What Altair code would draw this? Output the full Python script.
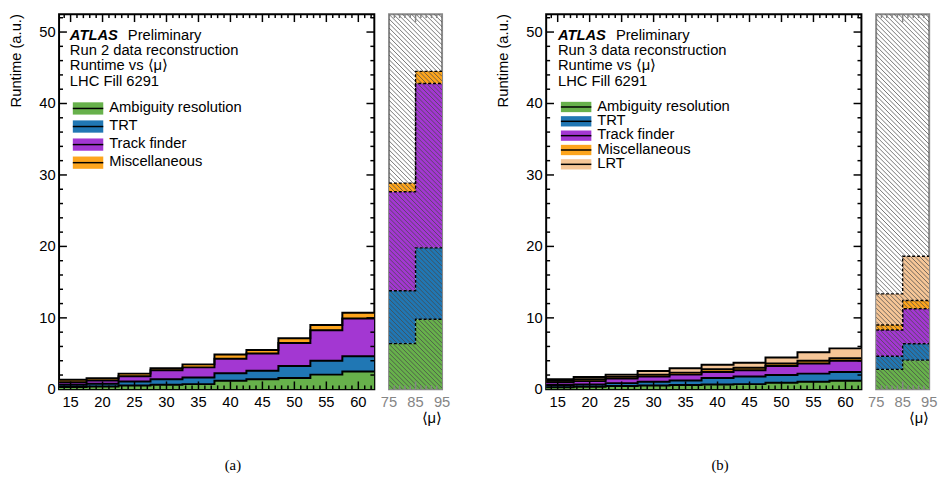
import altair as alt
import numpy as np
import pandas as pd

# ---------------- data ----------------
mu_bins = [15, 20, 25, 30, 35, 40, 45, 50, 55, 60]
mu_side = [80, 90]
bin_width_main = 5
bin_width_side = 10

components = ["Ambiguity resolution", "TRT", "Track finder", "Miscellaneous", "LRT"]

run2_amb = [0.32, 0.41, 0.55, 0.64, 0.73, 1.19, 1.42, 1.60, 2.06, 2.48]
run2_trt = [0.32, 0.37, 0.55, 0.78, 0.92, 1.06, 1.19, 1.66, 1.94, 2.15]
run2_trk = [0.36, 0.46, 0.73, 1.24, 1.42, 2.02, 2.39, 3.21, 4.26, 5.27]
run2_misc = [0.33, 0.32, 0.37, 0.28, 0.42, 0.59, 0.50, 0.69, 0.74, 0.83]
run2_side_amb = [6.4, 9.8]
run2_side_trt = [7.4, 10.0]
run2_side_trk = [13.85, 23.0]
run2_side_misc = [1.2, 1.7]

run3_amb = [0.30, 0.37, 0.46, 0.55, 0.60, 0.69, 0.73, 0.92, 1.05, 1.19]
run3_trt = [0.30, 0.32, 0.41, 0.50, 0.64, 0.91, 1.06, 1.10, 1.15, 1.24]
run3_trk = [0.40, 0.46, 0.63, 0.74, 0.82, 0.83, 0.87, 1.24, 1.42, 1.56]
run3_misc = [0.20, 0.25, 0.25, 0.27, 0.28, 0.37, 0.37, 0.36, 0.37, 0.37]
run3_lrt = [0.22, 0.34, 0.31, 0.51, 0.60, 0.64, 0.69, 0.83, 1.19, 1.37]
run3_side_amb = [2.8, 4.08]
run3_side_trt = [1.83, 2.3]
run3_side_trk = [3.67, 4.9]
run3_side_misc = [0.7, 1.15]
run3_side_lrt = [4.35, 6.19]

main_xlabels = [15, 20, 25, 30, 35, 40, 45, 50, 55, 60]
side_xlabels = [75, 85, 95]
y_labels = [0, 10, 20, 30, 40, 50]

# ---------------- styling / layout ----------------
FONT = "Liberation Sans"
FS = 15
W_MAIN, W_SIDE, H = 321, 54, 382
X_MAIN = [13.2, 62.5]
X_SIDE = [75, 95]
Y_DOM = [0, 52.5]
GREY = "#858585"

colors = {
    "Ambiguity resolution": "#67b14b",
    "TRT": "#2077b4",
    "Track finder": "#a337d2",
    "Miscellaneous": "#fda51d",
    "LRT": "#f6c697",
}
color_scale = alt.Scale(domain=components, range=[colors[c] for c in components])


def edges_of(centers, width):
    return [c - width / 2 for c in centers] + [centers[-1] + width / 2]


def stack_df(edges, comps):
    rows = []
    base = np.zeros(len(edges) - 1)
    for name, vals in comps:
        vals = np.asarray(vals, dtype=float)
        top = base + vals
        for i in range(len(vals)):
            rows.append(dict(comp=name, x=edges[i], lo=base[i], hi=top[i]))
        rows.append(dict(comp=name, x=edges[-1], lo=base[-1], hi=top[-1]))
        base = top
    return pd.DataFrame(rows)


one = pd.DataFrame({"a": [0]})


def txt(s, x, y, **kw):
    props = dict(font=FONT, fontSize=FS, color="black", align="left", baseline="alphabetic")
    props.update(kw)
    return alt.Chart(one).mark_text(**props).encode(
        x=alt.value(x), y=alt.value(y), text=alt.value(s))


def hrule(x1, x2, y, color="black", w=1.5):
    return alt.Chart(one).mark_rule(color=color, strokeWidth=w).encode(
        x=alt.value(x1), x2=alt.value(x2), y=alt.value(y))


def swatch(x1, x2, y1, y2, color):
    return alt.Chart(one).mark_rect(color=color).encode(
        x=alt.value(x1), x2=alt.value(x2), y=alt.value(y1), y2=alt.value(y2))


def xticks(vals, xs, L, color):
    d = pd.DataFrame({"t": vals})
    base = alt.Chart(d).mark_rule(color=color, strokeWidth=1.5)
    enc = dict(x=alt.X("t:Q", scale=xs, axis=None))
    return [base.encode(**enc, y=alt.value(H), y2=alt.value(H - L)),
            base.encode(**enc, y=alt.value(0), y2=alt.value(L))]


def yticks(vals, ys, L, color, W):
    d = pd.DataFrame({"t": vals})
    base = alt.Chart(d).mark_rule(color=color, strokeWidth=1.5)
    enc = dict(y=alt.Y("t:Q", scale=ys, axis=None))
    return [base.encode(**enc, x=alt.value(0), x2=alt.value(L)),
            base.encode(**enc, x=alt.value(W), x2=alt.value(W - L))]


def xlabels(vals, xs, color):
    d = pd.DataFrame({"v": vals})
    return alt.Chart(d).mark_text(font=FONT, fontSize=FS, color=color, align="center",
                                  baseline="top").encode(
        x=alt.X("v:Q", scale=xs, axis=None), y=alt.value(H + 5.5),
        text=alt.Text("v:Q", format="d"))


def ylabels(vals, ys):
    d = pd.DataFrame({"v": vals})
    return alt.Chart(d).mark_text(font=FONT, fontSize=FS, color="black", align="right",
                                  baseline="middle").encode(
        y=alt.Y("v:Q", scale=ys, axis=None), x=alt.value(-3.5),
        text=alt.Text("v:Q", format="d"))


def main_panel(comps, run_text, letter, leg_top, leg_pitch, leg_h, leg_x, head_x):
    df = stack_df(edges_of(mu_bins, bin_width_main), comps)
    xs = alt.Scale(domain=X_MAIN, nice=False, zero=False)
    ys = alt.Scale(domain=Y_DOM, nice=False, zero=False)
    area = alt.Chart(df).mark_area(interpolate="step-after", clip=True).encode(
        x=alt.X("x:Q", scale=xs, axis=None),
        y=alt.Y("lo:Q", scale=ys, axis=None, stack=None),
        y2="hi:Q",
        color=alt.Color("comp:N", scale=color_scale, legend=None),
    )
    lines = alt.Chart(df).mark_line(interpolate="step-after", clip=True, color="black",
                                    strokeWidth=2).encode(
        x=alt.X("x:Q", scale=xs, axis=None),
        y=alt.Y("hi:Q", scale=ys, axis=None),
        detail="comp:N",
    )
    layers = [area, lines]
    minor_x = [t for t in range(14, 63) if t % 5]
    major_x = list(range(15, 61, 5))
    minor_y = [t for t in range(2, 53, 2) if t % 10]
    major_y = [10, 20, 30, 40, 50]
    layers += xticks(minor_x, xs, 4, "black") + xticks(major_x, xs, 8, "black")
    layers += yticks(minor_y, ys, 4, "black", W_MAIN) + yticks(major_y, ys, 8, "black", W_MAIN)
    layers.append(xlabels(main_xlabels, xs, "black"))
    layers.append(ylabels(y_labels, ys))
    layers.append(txt("Runtime (a.u.)", -39, 0, angle=270, align="right"))
    # header
    layers.append(txt("ATLAS", head_x, 26, fontStyle="italic", fontWeight="bold"))
    layers.append(txt("Preliminary", head_x + 59, 26))
    layers.append(txt(run_text, head_x, 41.7))
    layers.append(txt("Runtime vs \u27e8\u03bc\u27e9", head_x, 57.2))
    layers.append(txt("LHC Fill 6291", head_x, 72.8))
    # legend
    for i, (name, _) in enumerate(comps):
        yc = leg_top + i * leg_pitch
        layers.append(swatch(leg_x, leg_x + 31, yc - leg_h / 2, yc + leg_h / 2, colors[name]))
        layers.append(hrule(leg_x, leg_x + 31, yc))
        layers.append(txt(name, leg_x + 37, yc + 3.6))
    layers.append(txt(letter, 177, 464, font="Liberation Serif", align="center"))
    return alt.layer(*layers).properties(
        width=W_MAIN, height=H, view=alt.ViewBackground(stroke="black", strokeWidth=2))


def side_panel(comps):
    df = stack_df(edges_of(mu_side, bin_width_side), comps)
    xs = alt.Scale(domain=X_SIDE, nice=False, zero=False)
    ys = alt.Scale(domain=Y_DOM, nice=False, zero=False)
    area = alt.Chart(df).mark_area(interpolate="step-after", clip=True).encode(
        x=alt.X("x:Q", scale=xs, axis=None),
        y=alt.Y("lo:Q", scale=ys, axis=None, stack=None),
        y2="hi:Q",
        color=alt.Color("comp:N", scale=color_scale, legend=None),
    )
    # diagonal hatching texture covering the whole side panel
    ypx = H / (Y_DOM[1] - Y_DOM[0])
    xpx = W_SIDE / (X_SIDE[1] - X_SIDE[0])
    dy = (X_SIDE[1] - X_SIDE[0]) * xpx / ypx
    step = 4.6 / ypx
    y0 = np.arange(0, Y_DOM[1] + dy + step, step)
    hatch = pd.DataFrame({"x1": X_SIDE[0], "x2": X_SIDE[1], "y1": y0, "y2": y0 - dy})
    hatch_l = alt.Chart(hatch).mark_rule(clip=True, color="#4a4a4a", strokeWidth=0.9,
                                         opacity=0.85).encode(
        x=alt.X("x1:Q", scale=xs, axis=None), x2="x2:Q",
        y=alt.Y("y1:Q", scale=ys, axis=None), y2="y2:Q")
    lines = alt.Chart(df).mark_line(interpolate="step-after", clip=True, color="black",
                                    strokeWidth=1.4, strokeDash=[3, 2]).encode(
        x=alt.X("x:Q", scale=xs, axis=None),
        y=alt.Y("hi:Q", scale=ys, axis=None),
        detail="comp:N",
    )
    layers = [area, hatch_l, lines]
    minor_x = [77, 79, 81, 83, 87, 89, 91, 93]
    layers += xticks(minor_x, xs, 4, GREY) + xticks([85], xs, 8, GREY)
    layers.append(xlabels(side_xlabels, xs, GREY))
    layers.append(txt("\u27e8\u03bc\u27e9", W_SIDE, 416, align="right"))
    return alt.layer(*layers).properties(
        width=W_SIDE, height=H, view=alt.ViewBackground(stroke="#8a8a8a", strokeWidth=2))


comps_a = [(components[0], run2_amb), (components[1], run2_trt),
           (components[2], run2_trk), (components[3], run2_misc)]
comps_a_side = [(components[0], run2_side_amb), (components[1], run2_side_trt),
                (components[2], run2_side_trk), (components[3], run2_side_misc)]
comps_b = [(components[0], run3_amb), (components[1], run3_trt),
           (components[2], run3_trk), (components[3], run3_misc), (components[4], run3_lrt)]
comps_b_side = [(components[0], run3_side_amb), (components[1], run3_side_trt),
                (components[2], run3_side_trk), (components[3], run3_side_misc),
                (components[4], run3_side_lrt)]

main_a = main_panel(comps_a, "Run 2 data reconstruction", "(a)", 96, 18.4, 12.5, 14, 11)
side_a = side_panel(comps_a_side)
main_b = main_panel(comps_b, "Run 3 data reconstruction", "(b)", 94.5, 14.6, 10.5, 15, 12)
side_b = side_panel(comps_b_side)

left = alt.hconcat(main_a, side_a, spacing=15, bounds="flush")
right = alt.hconcat(main_b, side_b, spacing=15, bounds="flush")

chart = alt.hconcat(left, right, spacing=44).properties(padding=0).configure_view(stroke=None)

chart.save("out.html", embed_options={"renderer": "svg", "actions": False})
